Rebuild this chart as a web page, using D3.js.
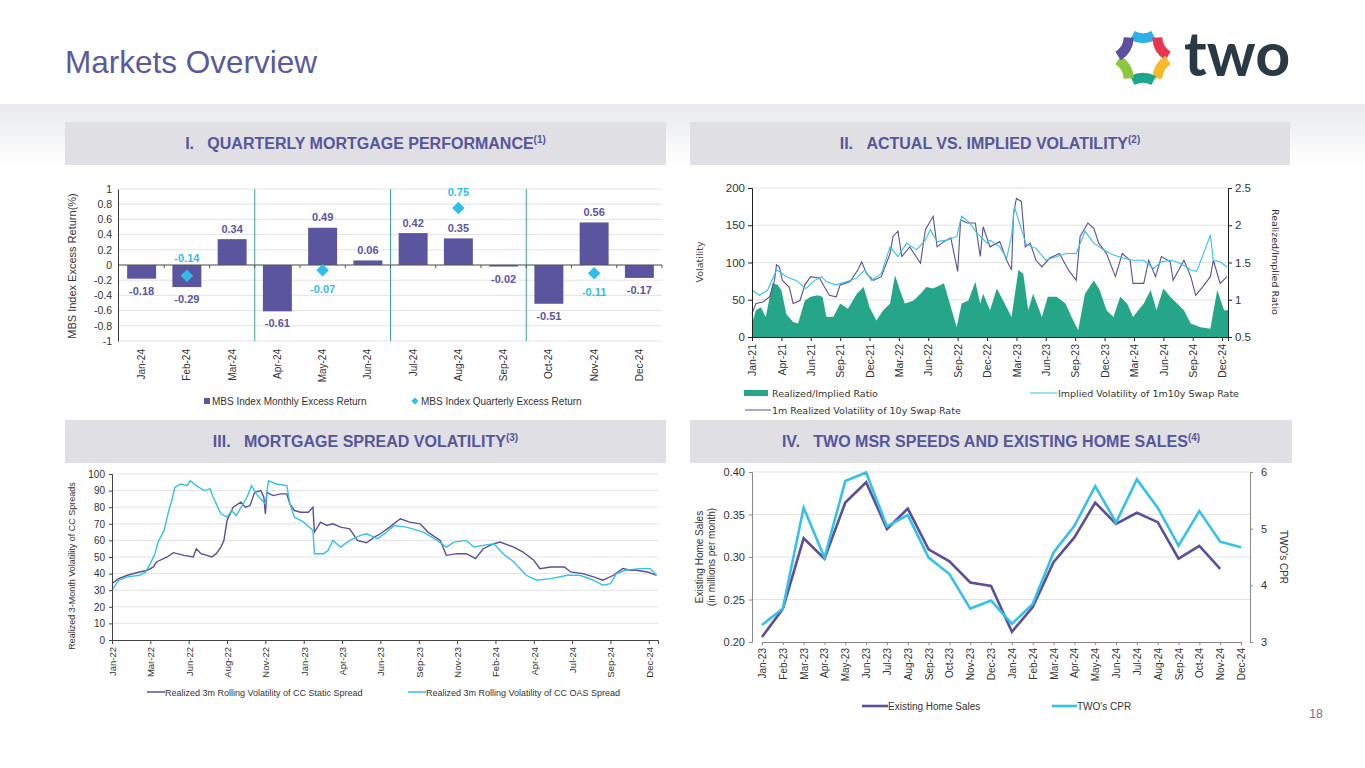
<!DOCTYPE html>
<html>
<head>
<meta charset="utf-8">
<script src="https://cdn.jsdelivr.net/npm/d3@7"></script>
<style>
  body { margin: 0; background: #fff; }
  svg { display: block; font-family: "Liberation Sans", Arial, sans-serif; }
</style>
</head>
<body>
<div id="wrapper"></div>
<script>
// ---------------- data ----------------
const pageTitle = "Markets Overview"
const pageNumber = "18"
const headerTitles = [
    ["I.", "QUARTERLY MORTGAGE PERFORMANCE", "(1)"],
    ["II.", "ACTUAL VS. IMPLIED VOLATILITY", "(2)"],
    ["III.", "MORTGAGE SPREAD VOLATILITY", "(3)"],
    ["IV.", "TWO MSR SPEEDS AND EXISTING HOME SALES", "(4)"],
]

// I. quarterly mortgage performance
const mbsMonths = ["Jan-24", "Feb-24", "Mar-24", "Apr-24", "May-24", "Jun-24",
    "Jul-24", "Aug-24", "Sep-24", "Oct-24", "Nov-24", "Dec-24"]
const mbsMonthly = [-0.18, -0.29, 0.34, -0.61, 0.49, 0.06, 0.42, 0.35, -0.02, -0.51, 0.56, -0.17]
const mbsQuarterMonths = ["Feb-24", "May-24", "Aug-24", "Nov-24"]
const mbsQuarterly = [-0.14, -0.07, 0.75, -0.11]
const mbsTicks = [-1, -0.8, -0.6, -0.4, -0.2, 0, 0.2, 0.4, 0.6, 0.8, 1]

// II. actual vs implied volatility  (x = months since Jan-21)
const volTickMonths = [0, 3, 6, 9, 12, 15, 18, 21, 24, 27, 30, 33, 36, 39, 42, 45, 48]
const volTickLabels = ["Jan-21", "Apr-21", "Jun-21", "Sep-21", "Dec-21", "Mar-22", "Jun-22", "Sep-22",
    "Dec-22", "Mar-23", "Jun-23", "Sep-23", "Dec-23", "Mar-24", "Jun-24", "Sep-24", "Dec-24"]
const realizedVol = [[0,31],[0.4,45],[1.1,47],[1.8,54],[2.3,76],[2.5,97],[2.8,94],[3.1,76],[3.8,67],
    [4.2,45],[4.9,49],[5.4,70],[6,81],[6.9,79],[7.4,67],[7.9,56],[8.6,54],[9,70],[10,74],[10.8,90],
    [11.2,101],[11.7,85],[12.4,76],[13.2,81],[14.1,112],[14.4,135],[14.9,142],[15.3,108],[16.1,121],
    [17.2,99],[17.7,144],[18.5,162],[18.9,121],[19.6,128],[20.3,133],[21,88],[21.3,157],[22,153],
    [22.8,153],[23.3,108],[23.6,148],[24.3,121],[25.3,128],[26,103],[26.5,90],[26.7,166],[27,186],
    [27.5,182],[27.9,121],[28.4,126],[29,103],[29.6,94],[30.4,106],[31.4,112],[32.3,90],[33.1,76],
    [33.5,135],[34.3,153],[34.9,146],[35.4,126],[36.2,112],[37.1,81],[37.8,112],[38.6,103],[38.9,72],
    [40,72],[40.5,103],[41.2,81],[41.8,108],[42.7,101],[43,76],[44.1,103],[44.8,81],[45.3,56],[46,67],
    [46.8,81],[47.1,103],[47.8,72],[48.5,81]]
const impliedVol = [[0,63],[0.75,56],[1.6,63],[2.5,90],[2.8,88],[3.5,81],[4.5,76],[5.5,65],[6.4,76],
    [7.1,81],[7.6,74],[8.6,70],[9.6,74],[10.7,79],[11.5,90],[12.2,76],[13.2,85],[14.1,121],[14.9,108],
    [15.8,126],[16.8,117],[17.7,130],[18.2,144],[18.9,128],[19.9,130],[20.9,135],[21.4,162],[22.1,155],
    [23,139],[24,126],[24.3,130],[25.3,121],[26,106],[26.5,135],[26.8,175],[27.3,153],[28,124],[29,119],
    [30,103],[31.1,108],[32.1,112],[33.1,112],[34,142],[34.9,126],[35.9,117],[36.9,110],[37.9,106],
    [38.9,103],[40,103],[41,92],[41.8,101],[42.9,103],[43.7,99],[44.8,90],[45.4,88],[46.1,112],
    [46.8,137],[47.1,103],[47.8,101],[48.5,94]]
const volRatio = [[0,0.68],[0.4,0.86],[0.9,0.9],[1.4,0.77],[2.1,1.22],[2.6,1.2],[3,1.13],[3.5,0.81],
    [4.2,0.7],[4.7,0.68],[5.4,0.99],[6,1.04],[6.7,1.06],[7.2,1.04],[7.6,0.77],[8.3,0.77],[9,0.95],
    [9.8,0.88],[10.7,1.08],[11.4,1.17],[12,0.9],[12.7,0.72],[13.4,0.86],[14.1,0.95],[14.6,1.33],
    [15.1,1.13],[15.6,0.95],[16.5,0.99],[17.2,1.08],[17.8,1.17],[18.5,1.15],[19.6,1.22],[20.2,0.95],
    [20.9,0.63],[21.4,0.95],[22.1,0.99],[22.8,1.24],[23.3,0.95],[23.6,1.08],[24.3,0.86],[25,1.15],
    [25.8,0.95],[26.5,0.77],[27.2,1.4],[27.7,1.35],[28.2,0.86],[28.7,1.08],[29.6,0.77],[30.2,1.04],
    [31.1,1.04],[32,0.95],[32.8,0.72],[33.3,0.59],[34,1.08],[34.9,1.26],[35.5,1.13],[36.2,0.86],
    [36.9,0.77],[37.6,1.04],[38.3,0.95],[38.9,0.77],[40,0.95],[40.7,1.13],[41.3,0.86],[42,1.15],
    [42.7,1.04],[43.4,0.95],[44.1,0.86],[44.8,0.68],[45.8,0.63],[46.8,0.61],[47.5,1.13],[48.2,0.86],
    [48.7,0.86]]

// III. mortgage spread volatility  (x = months since Jan-22)
const ccTickMonths = [0, 2.5, 5, 7.5, 10, 12.5, 15, 17.5, 20, 22.5, 25, 27.5, 30, 32.5, 35]
const ccTickLabels = ["Jan-22", "Mar-22", "Jun-22", "Aug-22", "Nov-22", "Jan-23", "Apr-23", "Jun-23",
    "Sep-23", "Nov-23", "Feb-24", "Apr-24", "Jul-24", "Sep-24", "Dec-24"]
const ccTicksY = [0, 10, 20, 30, 40, 50, 60, 70, 80, 90, 100]
const ccStatic = [[0,34],[0.43,37],[1,39],[1.6,40.5],[2.3,42],[2.7,44],[2.9,47],[3.6,50],[4,52.6],
    [4.7,51],[5.3,50],[5.5,55],[5.8,52],[6.2,51],[6.5,50],[6.8,52],[7.1,56],[7.3,60],[7.5,72],[7.7,76],
    [7.9,80],[8.4,83],[8.7,80],[9,81],[9.3,89],[9.7,90],[9.9,86],[10,76],[10.1,89],[10.5,87],[11,88],
    [11.4,88],[11.6,82],[11.9,78],[12.3,77],[12.8,77],[13.1,80],[13.2,65],[13.6,71],[14,69],[14.4,70],
    [14.9,68],[15.5,67],[16,60],[16.6,58.6],[17.1,62],[17.5,64],[18.1,68],[18.8,73],[19.4,71],[20.1,70],
    [20.6,65],[21.4,60],[21.8,51],[22.5,52],[23.1,52],[23.7,49],[24.2,55],[24.9,58],[25.3,59],[26.2,56],
    [26.8,53],[27.5,48],[27.9,43],[28.6,44],[29.5,44],[29.9,41],[30.7,40],[31.4,38],[32,36],[32.7,39],
    [33.3,43],[33.8,42],[34.2,42],[34.9,41],[35.5,39]]
const ccOas = [[0,30],[0.43,36],[1,38],[1.8,39],[2.2,41],[2.5,46],[2.8,52],[3,59],[3.4,66],[3.7,78],
    [3.9,84],[4.1,92],[4.5,94],[4.9,93],[5.1,96],[5.5,93],[6,90],[6.4,91],[6.6,86],[6.8,82],[7.1,76],
    [7.5,74],[7.8,78],[8.1,75],[8.8,86],[9.1,93],[9.4,88],[9.8,84],[10,82],[10.2,96],[10.7,94],[11.4,93],
    [11.6,82],[11.9,74],[12.5,71],[13.1,66],[13.2,52],[13.8,52],[14.1,54],[14.4,60],[14.9,56],[15.5,60],
    [16.2,63],[16.6,64],[17.3,61],[17.9,65],[18.4,69],[19.2,68],[20.3,65],[21.2,60],[21.8,56],[22.3,59],
    [23.1,60],[23.6,56],[24.2,57],[24.9,58],[25.5,52],[26.2,47],[27,39],[27.7,36],[28.6,37],[29.7,39],
    [30.5,39],[31.4,36],[32,33],[32.5,34],[32.9,40],[33.5,42],[34.4,43],[35.1,43],[35.5,39]]

// IV. TWO MSR speeds and existing home sales
const msrMonths = ["Jan-23", "Feb-23", "Mar-23", "Apr-23", "May-23", "Jun-23", "Jul-23", "Aug-23",
    "Sep-23", "Oct-23", "Nov-23", "Dec-23", "Jan-24", "Feb-24", "Mar-24", "Apr-24", "May-24", "Jun-24",
    "Jul-24", "Aug-24", "Sep-24", "Oct-24", "Nov-24", "Dec-24"]
const homeSales = [0.206, 0.239, 0.322, 0.298, 0.364, 0.388, 0.333, 0.357, 0.309, 0.295, 0.270, 0.266,
    0.212, 0.241, 0.294, 0.323, 0.364, 0.339, 0.352, 0.341, 0.298, 0.313, 0.286, null]
const twoCpr = [3.30, 3.59, 5.37, 4.49, 5.84, 5.99, 5.04, 5.24, 4.49, 4.20, 3.59, 3.73,
    3.32, 3.67, 4.58, 5.05, 5.75, 5.11, 5.87, 5.37, 4.70, 5.31, 4.77, 4.67]
const salesTicks = [0.20, 0.25, 0.30, 0.35, 0.40]
const cprTicks = [3, 4, 5, 6]

// ---------------- page ----------------
const purple = "#5b559f", cyan = "#2fbde9", lineCyan = "#35c1ea", linePurple = "#5a4f98"
const teal = "#26a688", gridC = "#e3e3e3", axisC = "#333"

const svg = d3.select("#wrapper").append("svg")
    .attr("width", 1365)
    .attr("height", 768)

const defs = svg.append("defs")
const band = defs.append("linearGradient").attr("id", "band")
    .attr("x1", 0).attr("y1", 0).attr("x2", 0).attr("y2", 1)
band.append("stop").attr("offset", "0%").attr("stop-color", "#e7e9ec")
band.append("stop").attr("offset", "100%").attr("stop-color", "#ffffff")
svg.append("rect").attr("x", 0).attr("y", 104).attr("width", 1365).attr("height", 62)
    .attr("fill", "url(#band)")

svg.append("text")
    .attr("x", 65).attr("y", 73)
    .attr("fill", "#5a5a9c")
    .style("font-size", "31.5px")
    .text(pageTitle)

// logo
const logo = svg.append("g").attr("transform", "translate(1143,58)")
const logoColors = ["#2cb2e6", "#e8364f", "#f6ba2a", "#1ca68e", "#8dc63f", "#5d4f9f"]
logoColors.forEach((c, i) => {
    const a = (-90 + i * 60) * Math.PI / 180
    const a0 = a - 0.44, a1 = a + 0.44, R = 25, r = 17
    const p = d3.path()
    p.moveTo(R * Math.cos(a0), R * Math.sin(a0))
    p.quadraticCurveTo(r * Math.cos(a), r * Math.sin(a), R * Math.cos(a1), R * Math.sin(a1))
    logo.append("path").attr("d", p.toString()).attr("fill", "none")
        .attr("stroke", c).attr("stroke-width", 10)
})
svg.append("text").attr("x", 1184).attr("y", 76)
    .attr("fill", "#2b3944")
    .style("font-family", "Lato, sans-serif").style("font-weight", 700).style("font-size", "61px")
    .text("two")

svg.append("text").attr("x", 1316).attr("y", 718).attr("text-anchor", "middle")
    .attr("fill", "#6c6ca0").style("font-size", "12px").text(pageNumber)

// panel headers
const headerBoxes = [[65, 122, 601], [690, 122, 600], [65, 420, 601], [690, 420, 602]]
headerBoxes.forEach(([x, y, w], i) => {
    svg.append("rect").attr("x", x).attr("y", y).attr("width", w).attr("height", 43).attr("fill", "#dfdfe4")
    const t = svg.append("text").attr("x", x + w / 2).attr("y", y + 27)
        .attr("text-anchor", "middle").attr("fill", "#56569b")
        .style("font-family", "'Liberation Sans Narrow', 'Liberation Sans', sans-serif")
        .style("font-weight", 700).style("font-size", "16px")
    t.append("tspan").text(headerTitles[i][0] + "\u00a0\u00a0\u00a0" + headerTitles[i][1])
    t.append("tspan").attr("dy", -6).style("font-size", "10px").text(headerTitles[i][2])
})

function rotateTicks(sel, dx) {
    sel.selectAll(".tick text")
        .attr("transform", "rotate(-90)")
        .attr("x", -dx).attr("y", 0).attr("dy", "0.35em")
        .style("text-anchor", "end")
}

// ---------------- I ----------------
const g1 = svg.append("g")
const x1 = d3.scaleBand().domain(mbsMonths).range([119, 662]).paddingInner(0.36).paddingOuter(0.18)
const y1 = d3.scaleLinear().domain([-1, 1]).range([341, 189])
g1.selectAll(".grid").data(mbsTicks).join("line")
    .attr("x1", 119).attr("x2", 662)
    .attr("y1", d => y1(d)).attr("y2", d => y1(d))
    .attr("stroke", gridC)
const ax1 = g1.append("g").attr("transform", "translate(118,0)")
    .call(d3.axisLeft(y1).tickValues(mbsTicks).tickSize(0).tickPadding(6)
        .tickFormat(d => String(+d.toFixed(1))))
ax1.select(".domain").attr("stroke", axisC)
ax1.selectAll("text").style("font-size", "10.5px").attr("fill", "#333")
const bx1 = g1.append("g").attr("transform", "translate(0,341)")
    .call(d3.axisBottom(x1).tickSize(0))
bx1.select(".domain").remove()
rotateTicks(bx1, 8)
bx1.selectAll("text").style("font-size", "10px").attr("fill", "#333")

const boundary = i => x1(mbsMonths[0]) + i * x1.step() - x1.step() * x1.paddingInner() / 2
g1.selectAll(".qsep").data([3, 6, 9]).join("line")
    .attr("x1", boundary).attr("x2", boundary).attr("y1", 189).attr("y2", 341)
    .attr("stroke", "#3aa79b").attr("stroke-width", 1)

g1.selectAll(".bar").data(mbsMonths).join("rect")
    .attr("x", d => x1(d)).attr("width", x1.bandwidth())
    .attr("y", (d, i) => y1(Math.max(0, mbsMonthly[i])))
    .attr("height", (d, i) => Math.abs(y1(mbsMonthly[i]) - y1(0)))
    .attr("fill", purple)
g1.append("line").attr("x1", 119).attr("x2", 662).attr("y1", y1(0)).attr("y2", y1(0)).attr("stroke", "#555")
g1.selectAll(".btick").data(d3.range(1, 13)).join("line")
    .attr("x1", boundary).attr("x2", boundary).attr("y1", y1(0)).attr("y2", y1(0) + 3).attr("stroke", "#555")

g1.selectAll(".blab").data(mbsMonths).join("text")
    .attr("x", d => x1(d) + x1.bandwidth() / 2)
    .attr("y", (d, i) => mbsMonthly[i] >= 0 ? y1(mbsMonthly[i]) - 6.5 : y1(mbsMonthly[i]) + 16)
    .attr("text-anchor", "middle").attr("fill", purple)
    .style("font-size", "11px").style("font-weight", 700)
    .text((d, i) => mbsMonthly[i].toFixed(2))

const diamond = d3.symbol().type(d3.symbolSquare).size(78)
g1.selectAll(".q").data(mbsQuarterMonths).join("path")
    .attr("d", diamond)
    .attr("transform", (d, i) => `translate(${x1(d) + x1.bandwidth() / 2},${y1(mbsQuarterly[i])}) rotate(45)`)
    .attr("fill", cyan)
g1.selectAll(".qlab").data(mbsQuarterMonths).join("text")
    .attr("x", d => x1(d) + x1.bandwidth() / 2)
    .attr("y", (d, i) => {
        const q = mbsQuarterly[i], b = mbsMonthly[mbsMonths.indexOf(d)]
        return (q < 0 && b > 0) ? y1(q) + 23 : Math.min(y1(q) - 12, y1(0) - 3)
    })
    .attr("text-anchor", "middle").attr("fill", cyan)
    .style("font-size", "11px").style("font-weight", 700)
    .text((d, i) => mbsQuarterly[i].toFixed(2))

g1.append("text").attr("transform", "translate(76,266) rotate(-90)")
    .attr("text-anchor", "middle").attr("fill", "#333").style("font-size", "11px")
    .text("MBS Index  Excess Return(%)")
g1.append("rect").attr("x", 204).attr("y", 398).attr("width", 6).attr("height", 6).attr("fill", purple)
g1.append("text").attr("x", 212).attr("y", 404.5).attr("fill", "#333").style("font-size", "10px")
    .text("MBS Index Monthly Excess Return")
g1.append("path").attr("d", d3.symbol().type(d3.symbolSquare).size(26))
    .attr("transform", "translate(415,401) rotate(45)").attr("fill", cyan)
g1.append("text").attr("x", 421).attr("y", 404.5).attr("fill", "#333").style("font-size", "10px")
    .text("MBS Index Quarterly Excess Return")

// ---------------- II ----------------
const g2 = svg.append("g").style("font-family", "'DejaVu Sans', sans-serif")
const x2 = d3.scaleLinear().domain([0, 48.6]).range([752, 1228])
const y2 = d3.scaleLinear().domain([0, 200]).range([337, 188])
const y2r = d3.scaleLinear().domain([0.5, 2.5]).range([337, 188])
g2.selectAll(".grid").data([50, 100, 150, 200]).join("line")
    .attr("x1", 752).attr("x2", 1228).attr("y1", d => y2(d)).attr("y2", d => y2(d)).attr("stroke", gridC)
g2.append("path").datum(volRatio)
    .attr("d", d3.area().x(d => x2(d[0])).y0(y2r(0.5)).y1(d => y2r(d[1])))
    .attr("fill", teal)
g2.append("path").datum(realizedVol)
    .attr("d", d3.line().x(d => x2(d[0])).y(d => y2(d[1])))
    .attr("fill", "none").attr("stroke", linePurple).attr("stroke-width", 1.1)
g2.append("path").datum(impliedVol)
    .attr("d", d3.line().x(d => x2(d[0])).y(d => y2(d[1])))
    .attr("fill", "none").attr("stroke", lineCyan).attr("stroke-width", 1.1)
const ax2 = g2.append("g").attr("transform", "translate(752,0)")
    .call(d3.axisLeft(y2).tickValues([0, 50, 100, 150, 200]).tickSize(4).tickPadding(3))
const ax2r = g2.append("g").attr("transform", "translate(1228,0)")
    .call(d3.axisRight(y2r).tickValues([0.5, 1, 1.5, 2, 2.5]).tickSize(4).tickPadding(3)
        .tickFormat(d => String(d)))
const bx2 = g2.append("g").attr("transform", "translate(0,337)")
    .call(d3.axisBottom(x2).tickValues(volTickMonths).tickSize(4)
        .tickFormat((d, i) => volTickLabels[i]))
rotateTicks(bx2, 7)
;[ax2, ax2r, bx2].forEach(a => {
    a.select(".domain").attr("stroke", "#222")
    a.selectAll("line").attr("stroke", "#222")
    a.selectAll("text").attr("fill", "#333").style("font-size", "10.5px")
})
ax2.selectAll("text").style("font-size", "11.5px")
ax2r.selectAll("text").style("font-size", "11.5px")
g2.append("text").attr("transform", "translate(703,262) rotate(-90)").attr("text-anchor", "middle")
    .attr("fill", "#444").style("font-size", "9.5px").text("Volatility")
g2.append("text").attr("transform", "translate(1272,262) rotate(90)").attr("text-anchor", "middle")
    .attr("fill", "#333").style("font-size", "9.5px").text("Realized/Implied Ratio")
g2.append("rect").attr("x", 744).attr("y", 390).attr("width", 24).attr("height", 6).attr("fill", teal)
g2.append("text").attr("x", 772).attr("y", 397).attr("fill", "#333").style("font-size", "9.5px")
    .text("Realized/Implied Ratio")
g2.append("line").attr("x1", 1030).attr("x2", 1057).attr("y1", 393).attr("y2", 393).attr("stroke", lineCyan)
g2.append("text").attr("x", 1058).attr("y", 397).attr("fill", "#333").style("font-size", "9.5px")
    .text("Implied Volatility of 1m10y Swap Rate")
g2.append("line").attr("x1", 745).attr("x2", 771).attr("y1", 410).attr("y2", 410).attr("stroke", linePurple)
g2.append("text").attr("x", 772).attr("y", 414).attr("fill", "#333").style("font-size", "9.5px")
    .text("1m Realized Volatility of 10y Swap Rate")

// ---------------- III ----------------
const g3 = svg.append("g")
const x3 = d3.scaleLinear().domain([0, 35.6]).range([112, 658])
const y3 = d3.scaleLinear().domain([0, 100]).range([640, 474])
g3.selectAll(".grid").data(ccTicksY.slice(1)).join("line")
    .attr("x1", 112).attr("x2", 658).attr("y1", d => y3(d)).attr("y2", d => y3(d)).attr("stroke", gridC)
g3.append("path").datum(ccStatic)
    .attr("d", d3.line().x(d => x3(d[0])).y(d => y3(d[1])))
    .attr("fill", "none").attr("stroke", linePurple).attr("stroke-width", 1.4)
g3.append("path").datum(ccOas)
    .attr("d", d3.line().x(d => x3(d[0])).y(d => y3(d[1])))
    .attr("fill", "none").attr("stroke", lineCyan).attr("stroke-width", 1.4)
const ax3 = g3.append("g").attr("transform", "translate(112,0)")
    .call(d3.axisLeft(y3).tickValues(ccTicksY).tickSize(3).tickPadding(4))
const bx3 = g3.append("g").attr("transform", "translate(0,640)")
    .call(d3.axisBottom(x3).tickValues(ccTickMonths).tickSize(4)
        .tickFormat((d, i) => ccTickLabels[i]))
rotateTicks(bx3, 7)
;[ax3, bx3].forEach(a => {
    a.select(".domain").attr("stroke", "#444")
    a.selectAll("line").attr("stroke", "#444")
    a.selectAll("text").attr("fill", "#333").style("font-size", "9.5px")
})
ax3.selectAll("text").style("font-size", "10px")
g3.append("text").attr("transform", "translate(75,566) rotate(-90)").attr("text-anchor", "middle")
    .attr("fill", "#333").style("font-size", "9px").text("Realized 3-Month Volatility of CC Spreads")
g3.append("line").attr("x1", 147).attr("x2", 165).attr("y1", 692).attr("y2", 692).attr("stroke", linePurple).attr("stroke-width", 1.5)
g3.append("text").attr("x", 165).attr("y", 695.5).attr("fill", "#333").style("font-size", "9px")
    .text("Realized 3m Rolling Volatility of CC Static Spread")
g3.append("line").attr("x1", 408).attr("x2", 426).attr("y1", 692).attr("y2", 692).attr("stroke", lineCyan).attr("stroke-width", 1.5)
g3.append("text").attr("x", 426).attr("y", 695.5).attr("fill", "#333").style("font-size", "9px")
    .text("Realized 3m Rolling Volatility of CC OAS Spread")

// ---------------- IV ----------------
const g4 = svg.append("g")
const x4 = d3.scalePoint().domain(msrMonths).range([762, 1241])
const y4 = d3.scaleLinear().domain([0.2, 0.4]).range([642, 472])
const y4r = d3.scaleLinear().domain([3, 6]).range([642, 472])
g4.selectAll(".grid").data(salesTicks.slice(1)).join("line")
    .attr("x1", 752).attr("x2", 1250).attr("y1", d => y4(d)).attr("y2", d => y4(d)).attr("stroke", gridC)
g4.append("path").datum(msrMonths)
    .attr("d", d3.line().defined((d, i) => homeSales[i] != null).x(d => x4(d)).y((d, i) => y4(homeSales[i])))
    .attr("fill", "none").attr("stroke", linePurple).attr("stroke-width", 2.6)
g4.append("path").datum(msrMonths)
    .attr("d", d3.line().x(d => x4(d)).y((d, i) => y4r(twoCpr[i])))
    .attr("fill", "none").attr("stroke", lineCyan).attr("stroke-width", 2.6)
const ax4 = g4.append("g").attr("transform", "translate(752,0)")
    .call(d3.axisLeft(y4).tickValues(salesTicks).tickSize(3).tickPadding(4).tickFormat(d3.format(".2f")))
const ax4r = g4.append("g").attr("transform", "translate(1250,0)")
    .call(d3.axisRight(y4r).tickValues(cprTicks).tickSize(3).tickPadding(8).tickFormat(d => String(d)))
const bx4 = g4.append("g").attr("transform", "translate(0,642)")
    .call(d3.axisBottom(x4).tickSize(3))
rotateTicks(bx4, 6)
;[ax4, ax4r, bx4].forEach(a => {
    a.select(".domain").attr("stroke", "#888")
    a.selectAll("line").attr("stroke", "#888")
    a.selectAll("text").attr("fill", "#333").style("font-size", "10px")
})
ax4.selectAll("text").style("font-size", "11px")
ax4r.selectAll("text").style("font-size", "11px")
const yt4 = g4.append("text").attr("transform", "translate(703,557) rotate(-90)").attr("text-anchor", "middle")
    .attr("fill", "#333").style("font-size", "10px")
yt4.append("tspan").attr("x", 0).attr("dy", 0).text("Existing Home Sales")
yt4.append("tspan").attr("x", 0).attr("dy", 12).text("(in millions per month)")
g4.append("text").attr("transform", "translate(1280,557) rotate(90)").attr("text-anchor", "middle")
    .attr("fill", "#333").style("font-size", "10px").text("TWO's CPR")
g4.append("line").attr("x1", 862).attr("x2", 888).attr("y1", 706).attr("y2", 706).attr("stroke", linePurple).attr("stroke-width", 2.6)
g4.append("text").attr("x", 888).attr("y", 710).attr("fill", "#333").style("font-size", "10px")
    .text("Existing Home Sales")
g4.append("line").attr("x1", 1052).attr("x2", 1077).attr("y1", 706).attr("y2", 706).attr("stroke", lineCyan).attr("stroke-width", 2.6)
g4.append("text").attr("x", 1077).attr("y", 710).attr("fill", "#333").style("font-size", "10px")
    .text("TWO's CPR")
</script>
</body>
</html>
